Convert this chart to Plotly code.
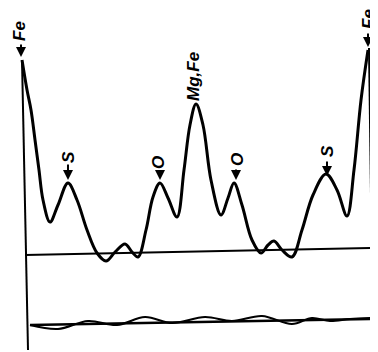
import plotly.graph_objects as go

# Main Fourier density curve (position along cell 0..100, density arbitrary units)
main_x = [0, 1.45, 2.60, 3.76, 4.91, 6.07, 8.09, 10.40, 13.29, 15.90, 18.79, 21.68, 24.28,
          26.88, 29.77, 31.79, 33.53, 35.84, 37.86, 39.88, 42.20, 44.80, 46.82, 48.55, 50.29,
          52.31, 54.62, 57.51, 59.54, 61.27, 63.58, 66.47, 69.08, 71.10, 72.83, 75.14, 78.03,
          80.92, 84.10, 87.86, 91.04, 93.93, 95.95, 97.98, 100.0]
main_y = [195, 165, 145, 115, 85, 55, 33, 50, 72, 55, 25, 2, -6,
          3, 11, 3, -2, 25, 58, 72, 57, 38, 85, 130, 151,
          130, 75, 40, 57, 72, 50, 15, 2, 10, 14, 5, -2,
          25, 60, 81, 65, 39, 85, 155, 205]

# Zero line of the main curve
base_x = [0.87, 101.16]
base_y = [0, 7]

# Lower difference curve and its zero line
diff_x = [2.31, 10.40, 19.08, 27.46, 35.55, 43.35, 52.89, 60.69, 69.36, 78.03, 83.82, 89.02, 94.80, 101.16]
diff_y = [-70, -74, -66, -70, -62, -68, -62, -66, -61, -69, -63, -66, -64, -63]
diff_base_x = [2.31, 101.16]
diff_base_y = [-70, -64]

# Cell edges
left_x = [0, 1.73]
left_y = [195, -95]
right_x = [100.29, 101.45]
right_y = [207, -88]

# Atom labels
lab_text = ["Fe", "S", "O", "Mg,Fe", "O", "S", "Fe"]
lab_x = [-0.87, 13.29, 39.3, 49.42, 62.14, 88.15, 100.0]
lab_y = [224, 98, 93, 178, 95, 104, 236]
# arrows: tip and tail
arr_x = [-0.29, 13.29, 39.88, 61.85, 88.15, 100.0]
arr_tip = [198, 75, 75, 75, 79, 208]
arr_tail = [212, 92, 85, 87, 95, 223]

fig = go.Figure()
fig.add_trace(go.Scatter(x=left_x, y=left_y, mode="lines", line=dict(color="black", width=2)))
fig.add_trace(go.Scatter(x=right_x, y=right_y, mode="lines", line=dict(color="black", width=2)))
fig.add_trace(go.Scatter(x=base_x, y=base_y, mode="lines", line=dict(color="black", width=2)))
fig.add_trace(go.Scatter(x=diff_base_x, y=diff_base_y, mode="lines", line=dict(color="black", width=2.5)))
fig.add_trace(go.Scatter(x=diff_x, y=diff_y, mode="lines", line=dict(color="black", width=2, shape="spline")))
fig.add_trace(go.Scatter(x=main_x, y=main_y, mode="lines", line=dict(color="black", width=3, shape="spline")))

for t, x, y in zip(lab_text, lab_x, lab_y):
    fig.add_annotation(x=x, y=y, text="<b><i>%s</i></b>" % t, showarrow=False, textangle=-90,
                       font=dict(family="Liberation Sans", size=17, color="black"))
for x, tip, tail in zip(arr_x, arr_tip, arr_tail):
    fig.add_annotation(x=x, y=tip, ax=x, ay=tail, axref="x", ayref="y", text="",
                       showarrow=True, arrowhead=2, arrowsize=1, arrowwidth=2, arrowcolor="black")

# page body has an 8px margin, so the figure is 8px smaller and ranges start 8px in
fig.update_layout(
    width=370, height=344, margin=dict(l=0, r=0, t=0, b=0),
    paper_bgcolor="white", plot_bgcolor="white", showlegend=False,
    xaxis=dict(range=[-4.05, 102.89], visible=False, fixedrange=True),
    yaxis=dict(range=[-97, 247], visible=False, fixedrange=True),
)
fig.write_html("out.html")
